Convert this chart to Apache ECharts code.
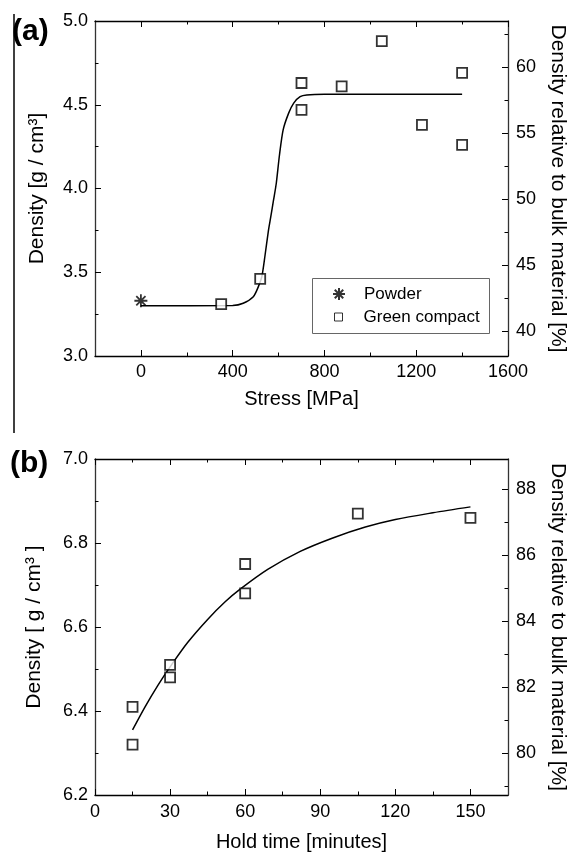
<!DOCTYPE html>
<html>
<head>
<meta charset="utf-8">
<script src="https://cdn.jsdelivr.net/npm/echarts@6/dist/echarts.min.js"></script>
<style>
html, body { margin: 0; padding: 0; background: #fff; }
#chart { width: 569px; height: 852px; }
</style>
</head>
<body>
<div id="chart"></div>
<script>
// (a) density vs. compaction stress
const powderA = [[0, 3.33]];
const compactA = [[350, 3.31], [520, 3.46], [700, 4.63], [700, 4.47], [875, 4.61],
  [1050, 4.88], [1225, 4.38], [1400, 4.69], [1400, 4.26]];
const fitA = [[0, 3.30], [400, 3.302], [446, 3.315], [490, 3.354], [512, 3.414], [527, 3.473],
  [541, 3.60], [556, 3.75], [566, 3.83], [578, 3.93], [590, 4.03], [604, 4.20], [620, 4.35],
  [644, 4.45], [666, 4.51], [694, 4.548], [723, 4.558], [800, 4.562], [1400, 4.562]];

// (b) density vs. hold time
const compactB = [[15, 6.41], [15, 6.32], [30, 6.51], [30, 6.48], [60, 6.75], [60, 6.68],
  [105, 6.87], [150, 6.86]];
const fitB = [[15, 6.355], [20, 6.41], [25, 6.46], [30, 6.505], [37, 6.563], [45, 6.618],
  [52, 6.66], [58, 6.69], [69, 6.737], [82, 6.78], [95, 6.812], [108, 6.838], [120, 6.856],
  [135, 6.872], [150, 6.886]];

// tick labels
const stressMajor = [0, 400, 800, 1200, 1600];
const stressMinor = [200, 600, 1000, 1400];
const densMajorA = [3.0, 3.5, 4.0, 4.5, 5.0];
const densMinorA = [3.25, 3.75, 4.25, 4.75];
const relMajorA = [40, 45, 50, 55, 60];
const relMinorA = [42.5, 47.5, 52.5, 57.5, 62.5];
const timeMajor = [0, 30, 60, 90, 120, 150];
const timeMinor = [15, 45, 75, 105, 135];
const densMajorB = [6.2, 6.4, 6.6, 6.8, 7.0];
const densMinorB = [6.3, 6.5, 6.7, 6.9];
const relMajorB = [80, 82, 84, 86, 88];
const relMinorB = [79, 81, 83, 85, 87];

const BULK = 7.874; // g/cm3, right axis is density relative to this
const FONT = '"Liberation Sans", Arial, sans-serif';
const SQUARE = 'path://M0,0H10V10H0Z';
const STAR = 'path://M5,0V10M0,5H10M1.46,1.46L8.54,8.54M1.46,8.54L8.54,1.46';

function axis(o) {
  return {
    type: 'value',
    gridIndex: o.grid,
    position: o.pos,
    min: o.min,
    max: o.max,
    offset: 0,
    splitLine: { show: false },
    axisLine: { show: !!o.line, onZero: false, lineStyle: { color: o.lineColor || '#000', width: 1.3 } },
    axisTick: { show: true, inside: true, length: o.len, customValues: o.ticks, lineStyle: { color: '#000', width: 1 } },
    axisLabel: o.labels ? {
      show: true, customValues: o.labels, formatter: o.fmt, margin: o.margin,
      color: '#000', fontFamily: FONT, fontSize: 18
    } : { show: false },
    name: o.name || '',
    nameLocation: 'middle',
    nameGap: o.nameGap,
    nameRotate: o.nameRotate,
    nameTextStyle: { color: '#000', fontFamily: FONT, fontSize: o.nameSize || 20 }
  };
}

const f1 = v => v.toFixed(1);
const f0 = v => String(v);

const xAxes = [
  axis({ grid: 0, pos: 'bottom', min: -200, max: 1600, line: true, ticks: stressMajor, len: 6, labels: stressMajor, fmt: f0, margin: 7, name: 'Stress [MPa]', nameGap: 33 }),
  axis({ grid: 0, pos: 'bottom', min: -200, max: 1600, ticks: stressMinor, len: 3.5 }),
  axis({ grid: 0, pos: 'top', min: -200, max: 1600, line: true, ticks: stressMajor, len: 6 }),
  axis({ grid: 0, pos: 'top', min: -200, max: 1600, ticks: stressMinor, len: 3.5 }),
  axis({ grid: 1, pos: 'bottom', min: 0, max: 165, line: true, ticks: timeMajor, len: 6, labels: timeMajor, fmt: f0, margin: 8, name: 'Hold time [minutes]', nameGap: 37 }),
  axis({ grid: 1, pos: 'bottom', min: 0, max: 165, ticks: timeMinor, len: 3.5 }),
  axis({ grid: 1, pos: 'top', min: 0, max: 165, line: true, ticks: timeMajor, len: 6 }),
  axis({ grid: 1, pos: 'top', min: 0, max: 165, ticks: timeMinor, len: 3.5 })
];

const yAxes = [
  axis({ grid: 0, pos: 'left', min: 3, max: 5, line: true, lineColor: '#333', ticks: densMajorA, len: 6, labels: densMajorA, fmt: f1, margin: 7, name: 'Density [g / cm³]', nameGap: 47, nameSize: 21 }),
  axis({ grid: 0, pos: 'left', min: 3, max: 5, ticks: densMinorA, len: 3.5 }),
  axis({ grid: 0, pos: 'right', min: 3 / BULK * 100, max: 5 / BULK * 100, line: true, lineColor: '#333', ticks: relMajorA, len: 6, labels: relMajorA, fmt: f0, margin: 8, name: 'Density relative to bulk material [%]', nameGap: 39, nameRotate: -90, nameSize: 21 }),
  axis({ grid: 0, pos: 'right', min: 3 / BULK * 100, max: 5 / BULK * 100, ticks: relMinorA, len: 3.5 }),
  axis({ grid: 1, pos: 'left', min: 6.2, max: 7.0, line: true, lineColor: '#333', ticks: densMajorB, len: 6, labels: densMajorB, fmt: f1, margin: 7, name: 'Density [ g / cm³ ]', nameGap: 50, nameSize: 21 }),
  axis({ grid: 1, pos: 'left', min: 6.2, max: 7.0, ticks: densMinorB, len: 3.5 }),
  axis({ grid: 1, pos: 'right', min: 6.2 / BULK * 100, max: 7.0 / BULK * 100, line: true, lineColor: '#333', ticks: relMajorB, len: 6, labels: relMajorB, fmt: f0, margin: 8, name: 'Density relative to bulk material [%]', nameGap: 39, nameRotate: -90, nameSize: 21 }),
  axis({ grid: 1, pos: 'right', min: 6.2 / BULK * 100, max: 7.0 / BULK * 100, ticks: relMinorB, len: 3.5 })
];

const legendText = { color: '#000', fontFamily: FONT, fontSize: 17 };

const option = {
  animation: false,
  backgroundColor: '#fff',
  grid: [
    { left: 95, top: 21, width: 413, height: 335, outerBoundsMode: 'none' },
    { left: 95, top: 459, width: 413, height: 336, outerBoundsMode: 'none' }
  ],
  xAxis: xAxes,
  yAxis: yAxes,
  legend: [
    { data: ['Powder'], left: 332, top: 285.5, orient: 'vertical', padding: 0, itemWidth: 40, itemHeight: 12,
      symbolKeepAspect: true, selectedMode: false, textStyle: legendText },
    { data: ['Green compact'], left: 334, top: 308.5, orient: 'vertical', padding: 0, itemWidth: 40, itemHeight: 8,
      symbolKeepAspect: true, selectedMode: false, itemStyle: { borderWidth: 1 }, textStyle: legendText }
  ],
  graphic: [
    { type: 'line', shape: { x1: 14, y1: 14, x2: 14, y2: 433 }, style: { stroke: '#000', lineWidth: 1.5 } },
    { type: 'text', left: 12, top: 17, style: { text: '(a)', font: 'bold 30px ' + FONT, fill: '#000' } },
    { type: 'text', left: 10, top: 449, style: { text: '(b)', font: 'bold 30px ' + FONT, fill: '#000' } },
    { type: 'rect', shape: { x: 312.5, y: 278.5, width: 177, height: 55 }, style: { fill: 'none', stroke: '#666', lineWidth: 1 }, z: 10 }
  ],
  series: [
    { name: 'fit a', type: 'line', xAxisIndex: 0, yAxisIndex: 0, data: fitA, showSymbol: false,
      smooth: 0.25, lineStyle: { color: '#000', width: 1.5 }, silent: true, z: 2 },
    { name: 'Powder', type: 'scatter', xAxisIndex: 0, yAxisIndex: 0, data: powderA, symbol: STAR, symbolSize: 13,
      itemStyle: { color: 'transparent', borderColor: '#000', borderWidth: 1.8 }, z: 3 },
    { name: 'Green compact', type: 'scatter', xAxisIndex: 0, yAxisIndex: 0, data: compactA, symbol: SQUARE, symbolSize: 10,
      itemStyle: { color: '#fff', borderColor: '#000', borderWidth: 1.8 }, z: 3 },
    { name: 'fit b', type: 'line', xAxisIndex: 4, yAxisIndex: 4, data: fitB, showSymbol: false,
      smooth: 0.3, lineStyle: { color: '#000', width: 1.5 }, silent: true, z: 2 },
    { name: 'hold time data', type: 'scatter', xAxisIndex: 4, yAxisIndex: 4, data: compactB, symbol: SQUARE, symbolSize: 10,
      itemStyle: { color: '#fff', borderColor: '#000', borderWidth: 1.8 }, z: 3 }
  ]
};

const chart = echarts.init(document.getElementById('chart'));
chart.setOption(option);
</script>
</body>
</html>
